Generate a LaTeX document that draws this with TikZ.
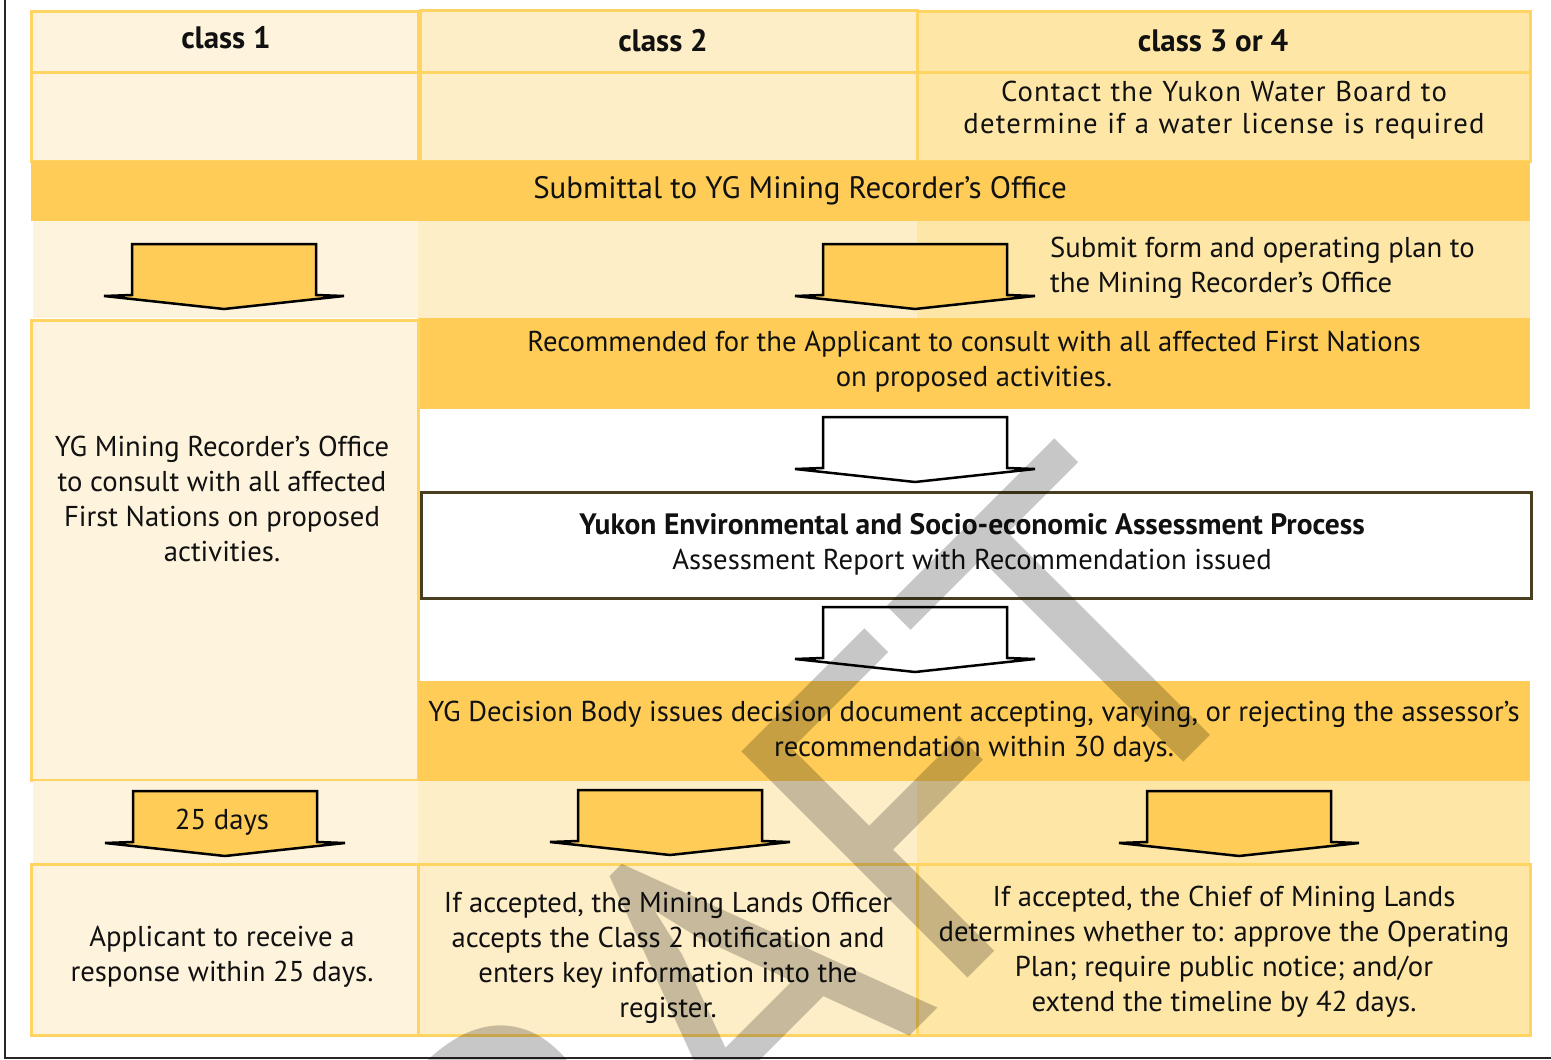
\documentclass[tikz,border=0pt]{standalone}
\usepackage{fontspec}
\setmainfont{PT Sans}
\definecolor{dark}{HTML}{FECC57}
\definecolor{cone}{HTML}{FEF3DC}
\definecolor{ctwo}{HTML}{FEEEC8}
\definecolor{cthree}{HTML}{FEE6A6}
\definecolor{bord}{HTML}{FFD462}
\definecolor{olive}{HTML}{4A3E20}
\definecolor{ink}{HTML}{111111}
\newcommand{\bodyfont}{\fontsize{28.7}{35}\selectfont}
\newcommand{\headfont}{\fontsize{31}{36}\selectfont\bfseries}
\tikzset{
  cell/.style={draw=bord, line width=3pt, inner sep=0pt, anchor=north west, outer sep=0pt},
  band/.style={draw=none, inner sep=0pt, anchor=north west, outer sep=0pt},
  txt/.style={text=ink, align=center, font=\bodyfont, inner sep=0pt},
  blockarr/.pic={
    \draw[line width=2.5pt, line join=miter, draw=black, pic actions]
      (-92,0) -- (92,0) -- (92,51) -- (120,52) -- (0,65) -- (-120,52) -- (-92,51) -- cycle;
  }
}
\begin{document}
\begin{tikzpicture}[x=1pt,y=-1pt]
\useasboundingbox[fill=white] (0,0) rectangle (1551,1060);
% frame lines
\draw[line width=2pt, draw=black!85] (5,0) -- (5,1058) -- (1551,1058);

% header row
\node[cell, fill=cone, minimum width=387pt, minimum height=61pt] (h1) at (31,11) {};
\node[cell, fill=ctwo, minimum width=497pt, minimum height=62pt] (h2) at (420,10) {};
\node[cell, fill=cthree, minimum width=613pt, minimum height=61pt] (h3) at (917,11) {};
\node[txt, font=\headfont] (h1t) at (226,38) {class 1};
\node[txt, font=\headfont] (h2t) at (663,41) {class 2};
\node[txt, font=\headfont] (h3t) at (1213,41) {class 3 or 4};

% row 2
\node[cell, fill=cone, minimum width=387pt, minimum height=89pt] (r1) at (31,72) {};
\node[cell, fill=ctwo, minimum width=497pt, minimum height=89pt] (r2) at (420,72) {};
\node[cell, fill=cthree, minimum width=613pt, minimum height=89pt] (r3) at (917,72) {};
\node[txt, font=\fontsize{28.7}{32}\selectfont\addfontfeatures{LetterSpace=4}, text width=600pt] (r3t) at (1224,110)
  {Contact the Yukon Water Board to\\determine if a water license is required};

% submittal band
\node[band, fill=dark, minimum width=1499pt, minimum height=60pt] (sub) at (31,161) {};
\node[txt, font=\fontsize{31}{36}\selectfont] (subt) at (800,191) {Submittal to YG Mining Recorder’s Office};

% arrow row 1 backgrounds
\node[band, fill=cone, minimum width=385pt, minimum height=97pt] (a1) at (33,221) {};
\node[band, fill=ctwo, minimum width=499pt, minimum height=97pt] (a2) at (418,221) {};
\node[band, fill=cthree, minimum width=613pt, minimum height=97pt] (a3) at (917,221) {};
\node[txt, align=left, anchor=west] (a3t) at (1050,268)
  {Submit form and operating plan to\\the Mining Recorder’s Office};
\pic[fill=dark] at (224,244) {blockarr};
\pic[fill=dark] at (915,244) {blockarr};

% consult band
\node[band, fill=dark, minimum width=1112pt, minimum height=91pt] (cons) at (418,318) {};
\node[txt] (const) at (974,362)
  {Recommended for the Applicant to consult with all affected First Nations\\on proposed activities.};

% class 1 tall cell
\node[cell, fill=cone, minimum width=387pt, minimum height=460pt] (c1) at (31,320) {};
\node[txt] (c1t) at (222,499)
  {YG Mining Recorder’s Office\\to consult with all affected\\First Nations on proposed\\activities.};

% white arrow 1
\pic[fill=white] at (915,417) {blockarr};

% YESA box
\node[draw=olive, line width=2.5pt, fill=white, inner sep=0pt, anchor=north west,
      minimum width=1110pt, minimum height=106pt] (yesa) at (420,491) {};
\node[txt] (yesat) at (972,544)
  {{\fontsize{29.5}{35}\selectfont\bfseries Yukon Environmental and Socio-economic Assessment Process}\\Assessment Report with Recommendation issued};

% white arrow 2
\pic[fill=white] at (915,607) {blockarr};

% decision band
\node[band, fill=dark, minimum width=1112pt, minimum height=100pt] (dec) at (418,681) {};
\node[txt] (dect) at (974,732)
  {YG Decision Body issues decision document accepting, varying, or rejecting the assessor’s\\recommendation within 30 days.};

% arrow row 2 backgrounds
\node[band, fill=cone, minimum width=385pt, minimum height=83pt] (b1) at (33,781) {};
\node[band, fill=ctwo, minimum width=499pt, minimum height=83pt] (b2) at (418,781) {};
\node[band, fill=cthree, minimum width=613pt, minimum height=83pt] (b3) at (917,781) {};
\pic[fill=dark] at (225,791) {blockarr};
\node[txt] (days) at (222,822) {25 days};
\pic[fill=dark] at (670,790) {blockarr};
\pic[fill=dark] at (1239,791) {blockarr};

% bottom row
\node[cell, fill=cone, minimum width=387pt, minimum height=171pt] (f1) at (31,864) {};
\node[cell, fill=ctwo, minimum width=499pt, minimum height=171pt] (f2) at (418,864) {};
\node[cell, fill=cthree, minimum width=613pt, minimum height=171pt] (f3) at (917,864) {};
\node[txt] (f1t) at (222,957) {Applicant to receive a\\response within 25 days.};
\node[txt] (f2t) at (668,958)
  {If accepted, the Mining Lands Officer\\accepts the Class 2 notification and\\enters key information into the\\register.};
\node[txt] (f3t) at (1224,952)
  {If accepted, the Chief of Mining Lands\\determines whether to: approve the Operating\\Plan; require public notice; and/or\\extend the timeline by 42 days.};

% watermark
\begin{scope}
\clip (0,0) rectangle (1551,1060);
\node[rotate=45, anchor=base east, text=black, text opacity=0.22, inner sep=0pt,
      font=\fontsize{457}{457}\selectfont] (wm) at (1287,659) {DRAFT};
\end{scope}
\end{tikzpicture}
\end{document}
